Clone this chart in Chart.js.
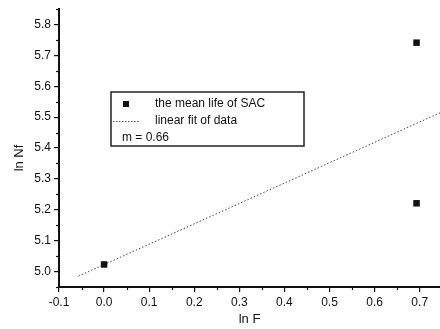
<!DOCTYPE html>
<html>
<head>
<meta charset="utf-8">
<script src="https://cdn.jsdelivr.net/npm/chart.js@4.4.1/dist/chart.umd.min.js"></script>
<style>
  html, body { margin: 0; padding: 0; background: #fff; overflow: hidden; }
  #wrap { width: 440px; height: 329px; }
</style>
</head>
<body>
<div id="wrap"><canvas id="c" width="440" height="329"></canvas></div>
<script>
// Mean fatigue life of SAC solder: ln Nf against ln F
const meanLifeX = [0.0, 0.693, 0.693];
const meanLifeY = [5.023, 5.741, 5.221];

// Linear fit (end points of the fitted line), slope m = 0.66
const fitX = [-0.057, 0.745];
const fitY = [4.985, 5.514];
const slopeText = 'm = 0.66';

const xTicks = [-0.1, 0.0, 0.1, 0.2, 0.3, 0.4, 0.5, 0.6, 0.7];
const yTicks = [5.0, 5.1, 5.2, 5.3, 5.4, 5.5, 5.6, 5.7, 5.8];
const xRange = [-0.1, 0.745];
const yRange = [4.95, 5.85];

const seriesLabels = ['the mean life of SAC', 'linear fit of data'];
const xTitle = 'ln F';
const yTitle = 'ln Nf';

const FONT = '"Liberation Sans", Arial, sans-serif';
const INK = '#111';

// minor ticks, axis titles and the boxed legend
const decorations = {
  id: 'decorations',
  afterDraw(chart) {
    const ctx = chart.ctx;
    const xs = chart.scales.x, ys = chart.scales.y;
    const area = chart.chartArea;
    ctx.save();
    ctx.strokeStyle = INK;
    ctx.lineWidth = 1.2;
    // minor ticks halfway between the major ones
    for (let i = 0; i < xTicks.length; i++) {
      const v = xTicks[i] + 0.05;
      if (v > xRange[1]) break;
      const px = Math.round(xs.getPixelForValue(v)) + 0.5;
      ctx.beginPath(); ctx.moveTo(px, area.bottom); ctx.lineTo(px, area.bottom + 3); ctx.stroke();
    }
    const yMinor = [yTicks[0] - 0.05].concat(yTicks.map(v => v + 0.05));
    yMinor.forEach(v => {
      if (v < yRange[0] || v > yRange[1]) return;
      const py = Math.round(ys.getPixelForValue(v)) + 0.5;
      ctx.beginPath(); ctx.moveTo(area.left, py); ctx.lineTo(area.left - 3, py); ctx.stroke();
    });

    // axis titles
    ctx.fillStyle = INK;
    ctx.font = '13px ' + FONT;
    ctx.textAlign = 'center';
    ctx.textBaseline = 'middle';
    ctx.fillText(xTitle, (area.left + area.right) / 2, 319);
    ctx.save();
    ctx.translate(19, 158);
    ctx.rotate(-Math.PI / 2);
    ctx.fillText(yTitle, 0, 0);
    ctx.restore();

    // legend box
    const bx = 111, by = 92, bw = 193, bh = 54;
    ctx.fillStyle = '#fff';
    ctx.fillRect(bx, by, bw, bh);
    ctx.strokeStyle = '#222';
    ctx.lineWidth = 1.5;
    ctx.strokeRect(bx, by, bw, bh);
    ctx.fillStyle = INK;
    ctx.fillRect(123, 101, 6, 6);
    ctx.strokeStyle = '#555';
    ctx.lineWidth = 1;
    ctx.setLineDash([1.5, 1.5]);
    ctx.beginPath(); ctx.moveTo(113, 121.5); ctx.lineTo(140, 121.5); ctx.stroke();
    ctx.setLineDash([]);
    ctx.font = '12px ' + FONT;
    ctx.textAlign = 'left';
    ctx.fillText(seriesLabels[0], 155, 104);
    ctx.fillText(seriesLabels[1], 155, 121);
    ctx.fillText(slopeText, 122, 138);
    ctx.restore();
  }
};

new Chart(document.getElementById('c'), {
  type: 'scatter',
  data: {
    datasets: [
      {
        label: seriesLabels[1],
        data: fitX.map((x, i) => ({ x, y: fitY[i] })),
        showLine: true,
        borderColor: '#444',
        borderWidth: 1,
        borderDash: [1.5, 2],
        pointRadius: 0,
        fill: false,
        order: 2
      },
      {
        label: seriesLabels[0],
        data: meanLifeX.map((x, i) => ({ x, y: meanLifeY[i] })),
        pointStyle: 'rect',
        pointRadius: 4.6,
        backgroundColor: INK,
        borderColor: INK,
        borderWidth: 0,
        order: 1
      }
    ]
  },
  options: {
    responsive: false,
    animation: false,
    layout: { autoPadding: false, padding: { top: 9, right: 0, left: 0, bottom: 0 } },
    plugins: { legend: { display: false }, tooltip: { enabled: false } },
    scales: {
      x: {
        type: 'linear',
        min: xRange[0], max: xRange[1],
        afterBuildTicks: s => { s.ticks = xTicks.map(v => ({ value: v })); },
        afterFit: s => { s.height = 42; s.paddingRight = 0; s.paddingLeft = 0; },
        grid: { display: true, drawOnChartArea: false, drawTicks: true, tickLength: 5, color: INK, lineWidth: 1.2 },
        border: { display: true, color: INK, width: 2 },
        ticks: {
          color: INK, padding: 3, maxRotation: 0, autoSkip: false,
          font: { family: FONT, size: 12 },
          callback: v => Number(v).toFixed(1)
        }
      },
      y: {
        type: 'linear',
        min: yRange[0], max: yRange[1],
        afterBuildTicks: s => { s.ticks = yTicks.map(v => ({ value: v })); },
        afterFit: s => { s.width = 59; s.paddingTop = 0; s.paddingBottom = 0; },
        grid: { display: true, drawOnChartArea: false, drawTicks: true, tickLength: 5, color: INK, lineWidth: 1.2 },
        border: { display: true, color: INK, width: 2 },
        ticks: {
          color: INK, padding: 3, autoSkip: false,
          font: { family: FONT, size: 12 },
          callback: v => Number(v).toFixed(1)
        }
      }
    }
  },
  plugins: [decorations]
});
</script>
</body>
</html>
